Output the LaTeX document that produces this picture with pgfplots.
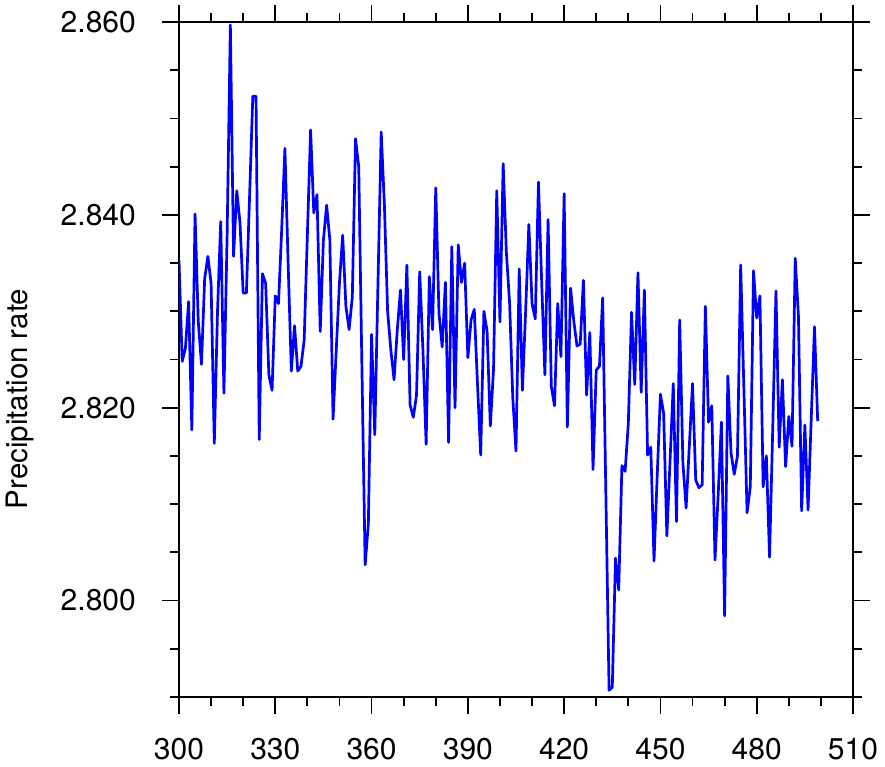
\documentclass[border=0pt]{standalone}
\usepackage{fontspec}
\setmainfont{TeX Gyre Heros}
\usepackage{pgfplots}
\pgfplotsset{compat=1.18}
\usepackage{pgfplotstable}
\pgfplotstableread{
x y
300 2.8353
301 2.8248
302 2.8262
303 2.8310
304 2.8177
305 2.8401
306 2.8290
307 2.8245
308 2.8334
309 2.8357
310 2.8329
311 2.8163
312 2.8300
313 2.8393
314 2.8215
315 2.8380
316 2.8597
317 2.8357
318 2.8425
319 2.8392
320 2.8319
321 2.8319
322 2.8420
323 2.8523
324 2.8523
325 2.8167
326 2.8339
327 2.8329
328 2.8234
329 2.8218
330 2.8316
331 2.8308
332 2.8385
333 2.8469
334 2.8350
335 2.8238
336 2.8285
337 2.8238
338 2.8243
339 2.8270
340 2.8380
341 2.8488
342 2.8402
343 2.8421
344 2.8279
345 2.8374
346 2.8410
347 2.8374
348 2.8188
349 2.8260
350 2.8330
351 2.8379
352 2.8305
353 2.8281
354 2.8315
355 2.8479
356 2.8450
357 2.8240
358 2.8037
359 2.8080
360 2.8276
361 2.8172
362 2.8330
363 2.8486
364 2.8410
365 2.8300
366 2.8260
367 2.8229
368 2.8280
369 2.8322
370 2.8250
371 2.8348
372 2.8203
373 2.8190
374 2.8213
375 2.8341
376 2.8260
377 2.8162
378 2.8336
379 2.8281
380 2.8428
381 2.8298
382 2.8263
383 2.8330
384 2.8164
385 2.8367
386 2.8200
387 2.8369
388 2.8330
389 2.8350
390 2.8252
391 2.8291
392 2.8302
393 2.8225
394 2.8151
395 2.8300
396 2.8279
397 2.8181
398 2.8240
399 2.8425
400 2.8289
401 2.8453
402 2.8361
403 2.8309
404 2.8210
405 2.8155
406 2.8344
407 2.8218
408 2.8300
409 2.8390
410 2.8308
411 2.8292
412 2.8434
413 2.8330
414 2.8234
415 2.8395
416 2.8222
417 2.8202
418 2.8308
419 2.8253
420 2.8422
421 2.8180
422 2.8324
423 2.8290
424 2.8264
425 2.8266
426 2.8332
427 2.8213
428 2.8278
429 2.8136
430 2.8239
431 2.8243
432 2.8314
433 2.8110
434 2.7907
435 2.7910
436 2.8044
437 2.8011
438 2.8140
439 2.8134
440 2.8184
441 2.8299
442 2.8224
443 2.8340
444 2.8216
445 2.8322
446 2.8151
447 2.8159
448 2.8041
449 2.8130
450 2.8214
451 2.8194
452 2.8067
453 2.8145
454 2.8225
455 2.8082
456 2.8291
457 2.8143
458 2.8096
459 2.8160
460 2.8225
461 2.8125
462 2.8117
463 2.8120
464 2.8305
465 2.8185
466 2.8202
467 2.8042
468 2.8110
469 2.8185
470 2.7984
471 2.8233
472 2.8153
473 2.8131
474 2.8150
475 2.8348
476 2.8220
477 2.8091
478 2.8118
479 2.8342
480 2.8293
481 2.8316
482 2.8118
483 2.8150
484 2.8045
485 2.8180
486 2.8321
487 2.8159
488 2.8229
489 2.8139
490 2.8191
491 2.8160
492 2.8355
493 2.8295
494 2.8093
495 2.8182
496 2.8094
497 2.8190
498 2.8284
499 2.8186
}\datatable

\begin{document}
\begin{tikzpicture}
\begin{axis}[
  at={(0,0)}, anchor=south west,
  scale only axis, width=674pt, height=675pt,
  xmin=300, xmax=510, ymin=2.790, ymax=2.860,
  xtick={300,330,360,390,420,450,480,510},
  ytick={2.80,2.82,2.84,2.86},
  minor xtick={310,320,340,350,370,380,400,410,430,440,460,470,490,500},
  minor ytick={2.790,2.795,2.805,2.810,2.815,2.825,2.830,2.835,2.845,2.850,2.855},
  tick align=outside,
  major tick length=17pt, minor tick length=9pt,
  every tick/.append style={black, line width=1.8pt},
  axis line style={line width=1.8pt},
  /pgf/number format/assume math mode=true,
  tick label style={font=\fontsize{30}{34}\selectfont, inner sep=1pt},
  xticklabel style={yshift=-23pt, /pgf/number format/.cd, fixed, precision=0, 1000 sep={}},
  yticklabel style={xshift=-25pt, /pgf/number format/.cd, fixed, fixed zerofill, precision=3},
  ylabel={Precipitation rate},
  every axis y label/.style={at={(axis description cs:-0.236,0.4415)}, rotate=90, anchor=center, font=\fontsize{29.5}{34}\selectfont},
]
\addplot[color={rgb,1:red,0;green,0;blue,1}, line width=2.7pt, line join=round, mark=none] table[x=x, y=y] {\datatable};
\end{axis}
\pgfresetboundingbox
\path (-179pt,-69pt) rectangle (706pt,697pt);
\end{tikzpicture}
\end{document}
